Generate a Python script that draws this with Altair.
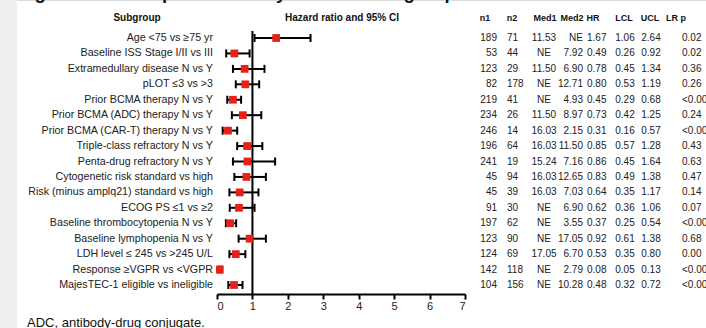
import altair as alt
import pandas as pd

subgroups = [
    "Age <75 vs ≥75 yr",
    "Baseline ISS Stage I/II vs III",
    "Extramedullary disease N vs Y",
    "pLOT ≤3 vs >3",
    "Prior BCMA therapy N vs Y",
    "Prior BCMA (ADC) therapy N vs Y",
    "Prior BCMA (CAR-T) therapy N vs Y",
    "Triple-class refractory N vs Y",
    "Penta-drug refractory N vs Y",
    "Cytogenetic risk standard vs high",
    "Risk (minus amplq21) standard vs high",
    "ECOG PS ≤1 vs ≥2",
    "Baseline thrombocytopenia N vs Y",
    "Baseline lymphopenia N vs Y",
    "LDH level ≤ 245 vs >245 U/L",
    "Response ≥VGPR vs <VGPR",
    "MajesTEC-1 eligible vs ineligible",
]
n1 = [189, 53, 123, 82, 219, 234, 246, 196, 241, 45, 45, 91, 197, 123, 124, 142, 104]
n2 = [71, 44, 29, 178, 41, 26, 14, 64, 19, 94, 39, 30, 62, 90, 69, 118, 156]
med1 = ["11.53", "NE", "11.50", "NE", "NE", "11.50", "16.03", "16.03", "15.24",
        "16.03", "16.03", "NE", "NE", "NE", "17.05", "NE", "NE"]
med2 = ["NE", "7.92", "6.90", "12.71", "4.93", "8.97", "2.15", "11.50", "7.16",
        "12.65", "7.03", "6.90", "3.55", "17.05", "6.70", "2.79", "10.28"]
hr = [1.67, 0.49, 0.78, 0.80, 0.45, 0.73, 0.31, 0.85, 0.86, 0.83, 0.64, 0.62, 0.37, 0.92, 0.53, 0.08, 0.48]
lcl = [1.06, 0.26, 0.45, 0.53, 0.29, 0.42, 0.16, 0.57, 0.45, 0.49, 0.35, 0.36, 0.25, 0.61, 0.35, 0.05, 0.32]
ucl = [2.64, 0.92, 1.34, 1.19, 0.68, 1.25, 0.57, 1.28, 1.64, 1.38, 1.17, 1.06, 0.54, 1.38, 0.80, 0.13, 0.72]
lrp = ["0.02", "0.02", "0.36", "0.26", "<0.001", "0.24", "<0.001", "0.43", "0.63",
       "0.47", "0.14", "0.07", "<0.001", "0.68", "0.00", "<0.001", "<0.001"]
x_ticks = [0, 1, 2, 3, 4, 5, 6, 7]

title_text = "Figure 3. Forest plot of PFS by baseline subgroup"
footnote = "ADC, antibody-drug conjugate."

df = pd.DataFrame({
    "row": list(range(len(subgroups))),
    "subgroup": subgroups,
    "n1": [str(v) for v in n1],
    "n2": [str(v) for v in n2],
    "med1": med1,
    "med2": med2,
    "hr": hr,
    "lcl": lcl,
    "ucl": ucl,
    "hr_s": [f"{v:.2f}" for v in hr],
    "lcl_s": [f"{v:.2f}" for v in lcl],
    "ucl_s": [f"{v:.2f}" for v in ucl],
    "lrp": lrp,
})

W, H = 706, 328
FONT = "Liberation Sans"
TXT = "#222222"

yscale = alt.Scale(domain=[0, len(subgroups) - 1], range=[38, 285], nice=False, zero=False)
xscale = alt.Scale(domain=[0, 7], range=[217, 465], nice=False, zero=False)
xaxis = alt.Axis(values=x_ticks, format="d", offset=-34, domainColor="black",
                 domainWidth=2, tickColor="black", tickWidth=2, tickSize=5,
                 labelFont=FONT, labelFontSize=11, labelColor=TXT,
                 labelPadding=1, grid=False, title=None)
Y = alt.Y("row:Q", scale=yscale, axis=None)


def X(field):
    return alt.X(field, scale=xscale, axis=xaxis, title=None)


base = alt.Chart(df)
one = pd.DataFrame({"v": [1]})

strip = alt.Chart(one).mark_rect(color="#efefef").encode(
    x=alt.value(0), x2=alt.value(17), y=alt.value(0), y2=alt.value(H))

title = alt.Chart(one).mark_text(
    text=title_text, align="left", baseline="alphabetic", font=FONT,
    fontSize=18.5, fontWeight="bold", color="#111111"
).encode(x=alt.value(18), y=alt.value(-1.5))

refline = alt.Chart(one).mark_rule(color="black", strokeWidth=2).encode(
    x=X("v:Q"), y=alt.value(31), y2=alt.value(294))

ci = base.mark_rule(color="black", strokeWidth=2).encode(
    x=X("lcl:Q"), x2="ucl:Q", y=Y)

cap_l = base.mark_tick(color="black", orient="vertical", size=8, thickness=2, opacity=1).encode(
    x=X("lcl:Q"), y=Y)
cap_r = base.mark_tick(color="black", orient="vertical", size=8, thickness=2, opacity=1).encode(
    x=X("ucl:Q"), y=Y)

pts = base.mark_square(color="#e62117", size=60, opacity=1, filled=True).encode(
    x=X("hr:Q"), y=Y)

labels = base.mark_text(align="right", baseline="middle", font=FONT, fontSize=10.7,
                        color=TXT).encode(x=alt.value(213), y=Y, text="subgroup:N")

cols = [
    ("n1", 497, "right"),
    ("n2", 507, "left"),
    ("med1", 544, "center"),
    ("med2", 583, "right"),
    ("hr_s", 587, "left"),
    ("lcl_s", 625, "center"),
    ("ucl_s", 651, "center"),
    ("lrp", 682, "left"),
]
col_layers = [
    base.mark_text(align=a, baseline="middle", font=FONT, fontSize=10, color=TXT)
    .encode(x=alt.value(px), y=Y, text=f"{c}:N")
    for c, px, a in cols
]

headers = [
    ("Subgroup", 137, 10), ("Hazard ratio and 95% CI", 342, 10),
    ("n1", 485, 9), ("n2", 512, 9), ("Med1", 545, 9), ("Med2", 572, 9),
    ("HR", 593, 9), ("LCL", 624, 9), ("UCL", 650, 9), ("LR p", 676, 9),
]
header_layers = [
    alt.Chart(one).mark_text(text=t, align="center", baseline="middle", font=FONT,
                             fontSize=fs, fontWeight="bold", color="#111111")
    .encode(x=alt.value(px), y=alt.value(18))
    for t, px, fs in headers
]

foot = alt.Chart(one).mark_text(text=footnote, align="left", baseline="alphabetic",
                                font=FONT, fontSize=13, color="#111111").encode(
    x=alt.value(27), y=alt.value(327))

chart = alt.layer(
    strip, title, refline, ci, cap_l, cap_r, pts, labels, *col_layers, *header_layers, foot
).properties(
    width=W, height=H, padding=0, autosize=alt.AutoSizeParams(type="none")
).configure_view(stroke=None).configure(background="white")

chart.save("out.html", embed_options={"renderer": "svg", "actions": False})
